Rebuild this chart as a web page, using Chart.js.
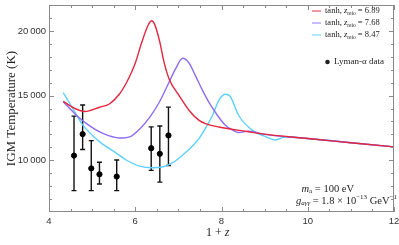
<!DOCTYPE html>
<html>
<head>
<meta charset="utf-8">
<script src="https://cdn.jsdelivr.net/npm/chart.js@4.4.1/dist/chart.umd.min.js"></script>
<style>
  html, body { margin: 0; padding: 0; background: #fff; }
</style>
</head>
<body>
<canvas id="tempChart" width="399" height="245"></canvas>
<script>
// tanh reionization curves, z_reio = 6.89 / 7.68 / 8.47
const redX = [4.33, 4.6, 4.83, 5.17, 5.4, 5.63, 5.79, 5.9, 6.0, 6.15, 6.3, 6.38, 6.45, 6.56, 6.67, 6.79, 7.02, 7.25, 7.48, 7.63, 7.94, 8.63, 8.9, 10, 11, 12];
const redT = [14550, 14000, 13770, 14100, 14350, 15100, 15950, 16700, 17500, 19100, 20450, 20780, 20500, 19270, 17550, 16250, 14980, 13850, 13080, 12830, 12570, 12200, 12060, 11680, 11355, 11030];

const purpleX = [4.33, 4.6, 4.87, 5.25, 5.64, 5.9, 6.1, 6.33, 6.56, 6.75, 6.94, 7.1, 7.25, 7.4, 7.56, 7.71, 7.9, 8.09, 8.25, 8.4, 8.63, 9.0, 10, 11, 12];
const purpleT = [14520, 13600, 12830, 12070, 11720, 11850, 12400, 13300, 14500, 15800, 17100, 17880, 17500, 16500, 15400, 14470, 13500, 12700, 12350, 12140, 12250, 12000, 11680, 11355, 11030];

const cyanX = [4.33, 4.55, 4.79, 5.17, 5.56, 5.8, 6.1, 6.4, 6.65, 6.86, 7.1, 7.3, 7.48, 7.65, 7.79, 7.95, 8.09, 8.2, 8.4, 8.71, 9.02, 9.25, 9.48, 9.78, 10, 11, 12];
const cyanT = [15230, 14000, 12700, 11440, 10550, 10000, 9545, 9420, 9500, 9800, 10400, 11000, 11690, 12600, 13460, 14700, 15100, 14950, 13460, 12330, 11820, 11570, 11800, 11750, 11680, 11355, 11030];

// Lyman-alpha data with error bars
const lyaX = [4.58, 4.78, 4.98, 5.17, 5.57, 6.37, 6.57, 6.77];
const lyaT = [10360, 12020, 9370, 8915, 8740, 10930, 10500, 11920];
const lyaHi = [13410, 14265, 11515, 9850, 10020, 12580, 12650, 14110];
const lyaLo = [7650, 10830, 7650, 8160, 7650, 9220, 8310, 9600];

const xTicks = [4, 6, 8, 10, 12];
const yTicks = [10000, 15000, 20000];

const seriesNames = ["6.89", "7.68", "8.47"];
const seriesColors = ["#e4263f", "#8c6df4", "#5cd0fb"];

const toPts = (xs, ys) => xs.map((x, i) => ({ x: x, y: ys[i] }));

const serif = "'Liberation Serif', 'DejaVu Serif', serif";
const sans = "'Liberation Sans', Arial, sans-serif";

function richText(ctx, x, y, parts, align) {
  let w = 0;
  parts.forEach(p => { ctx.font = p.f; w += ctx.measureText(p.t).width; });
  let cx = align === "right" ? x - w : x;
  parts.forEach(p => {
    ctx.font = p.f;
    ctx.fillText(p.t, cx, y + (p.dy || 0));
    cx += ctx.measureText(p.t).width;
  });
}

const framePlugin = {
  id: "frame",
  beforeDatasetsDraw(chart) {
    const { ctx, scales } = chart;
    const xs = scales.x, ys = scales.y;
    ctx.save();
    // error bars
    ctx.strokeStyle = "#111";
    ctx.lineWidth = 1.4;
    lyaX.forEach((x, i) => {
      const px = xs.getPixelForValue(x);
      const top = ys.getPixelForValue(lyaHi[i]);
      const bot = ys.getPixelForValue(lyaLo[i]);
      ctx.beginPath();
      ctx.moveTo(px, top); ctx.lineTo(px, bot);
      ctx.moveTo(px - 2.5, top); ctx.lineTo(px + 2.5, top);
      ctx.moveTo(px - 2.5, bot); ctx.lineTo(px + 2.5, bot);
      ctx.stroke();
    });
    ctx.restore();
  },
  afterDraw(chart) {
    const { ctx, chartArea: a, scales } = chart;
    const xs = scales.x, ys = scales.y;
    ctx.save();
    ctx.strokeStyle = "#8a8a8a";
    ctx.lineWidth = 1;
    ctx.strokeRect(a.left + 0.5, a.top + 0.5, a.right - a.left - 1, a.bottom - a.top - 1);
    ctx.beginPath();
    for (let v = 4; v <= 12.001; v += 0.5) {
      const px = Math.round(xs.getPixelForValue(v)) + 0.5;
      const len = Math.abs(v % 2) < 0.01 ? 5 : 3;
      ctx.moveTo(px, a.bottom); ctx.lineTo(px, a.bottom - len);
      ctx.moveTo(px, a.top); ctx.lineTo(px, a.top + len);
    }
    for (let v = 7000; v <= 21000; v += 1000) {
      const py = Math.round(ys.getPixelForValue(v)) + 0.5;
      const len = v % 5000 === 0 ? 5 : 3;
      ctx.moveTo(a.left, py); ctx.lineTo(a.left + len, py);
      ctx.moveTo(a.right, py); ctx.lineTo(a.right - len, py);
    }
    ctx.stroke();

    // x axis title
    ctx.fillStyle = "#222";
    ctx.textBaseline = "middle";
    richText(ctx, 206, 233, [
      { t: "1 + ", f: "12px " + serif },
      { t: "z", f: "italic 12px " + serif }
    ]);

    // legend
    seriesNames.forEach((n, i) => {
      const y = 11 + i * 12;
      ctx.strokeStyle = seriesColors[i];
      ctx.globalAlpha = 0.6;
      ctx.lineWidth = 1.6;
      ctx.beginPath(); ctx.moveTo(312, y); ctx.lineTo(321, y); ctx.stroke();
      ctx.globalAlpha = 1;
      richText(ctx, 325, y, [
        { t: "tanh, ", f: "8.5px " + serif },
        { t: "z", f: "italic 8.5px " + serif },
        { t: "reio", f: "5.5px " + serif, dy: 2.5 },
        { t: " = " + n, f: "8.5px " + serif }
      ]);
    });
    ctx.beginPath();
    ctx.arc(327.5, 62, 2.3, 0, Math.PI * 2);
    ctx.fill();
    richText(ctx, 334, 62, [{ t: "Lyman-\u03b1 data", f: "9px " + serif }]);

    // parameters
    richText(ctx, 354, 189, [
      { t: "m", f: "italic 10.5px " + serif },
      { t: "a", f: "7px " + serif, dy: 2 },
      { t: " = 100 eV", f: "10.5px " + serif }
    ], "right");
    richText(ctx, 397, 201, [
      { t: "g", f: "italic 10.5px " + serif },
      { t: "a\u03b3\u03b3", f: "italic 7px " + serif, dy: 2 },
      { t: " = 1.8 \u00d7 10", f: "10.5px " + serif },
      { t: "\u221213", f: "7px " + serif, dy: -3.5 },
      { t: " GeV", f: "10.5px " + serif },
      { t: "\u22121", f: "7px " + serif, dy: -3.5 }
    ], "right");
    ctx.restore();
  }
};

const lineStyle = (pts, color) => ({
  data: pts,
  borderColor: color,
  borderWidth: 1.4,
  pointRadius: 0,
  showLine: true,
  fill: false,
  cubicInterpolationMode: "monotone",
});

new Chart(document.getElementById("tempChart"), {
  type: "scatter",
  data: {
    datasets: [
      {
        data: toPts(lyaX, lyaT),
        backgroundColor: "#000",
        borderColor: "#000",
        pointRadius: 2.6,
        showLine: false,
      },
      lineStyle(toPts(redX, redT), seriesColors[0]),
      lineStyle(toPts(purpleX, purpleT), seriesColors[1]),
      lineStyle(toPts(cyanX, cyanT), seriesColors[2]),
    ],
  },
  options: {
    responsive: false,
    animation: false,
    layout: { padding: { top: 1, right: 3, left: 0, bottom: 0 } },
    scales: {
      x: {
        type: "linear",
        min: 4,
        max: 12,
        afterBuildTicks: s => { s.ticks = xTicks.map(v => ({ value: v })); },
        afterFit: s => { s.height = 33; s.paddingLeft = 0; s.paddingRight = 0; },
        grid: { display: false, drawTicks: false },
        border: { display: false },
        ticks: { padding: 4, color: "#333", font: { family: sans, size: 9.5 }, maxRotation: 0 },
      },
      y: {
        type: "linear",
        min: 6000,
        max: 22000,
        afterBuildTicks: s => { s.ticks = yTicks.map(v => ({ value: v })); },
        afterFit: s => { s.width = 49; s.paddingTop = 0; s.paddingBottom = 0; },
        grid: { display: false, drawTicks: false },
        border: { display: false },
        ticks: {
          padding: 3,
          color: "#333",
          font: { family: sans, size: 9.5 },
          callback: v => String(v / 1000) + "\u2009000",
        },
        title: {
          display: true,
          text: "IGM Temperature (K)",
          color: "#222",
          font: { family: serif, size: 13 },
          padding: { top: 4, bottom: 0 },
        },
      },
    },
    plugins: {
      legend: { display: false },
      tooltip: { enabled: false },
    },
  },
  plugins: [framePlugin],
});
</script>
</body>
</html>
